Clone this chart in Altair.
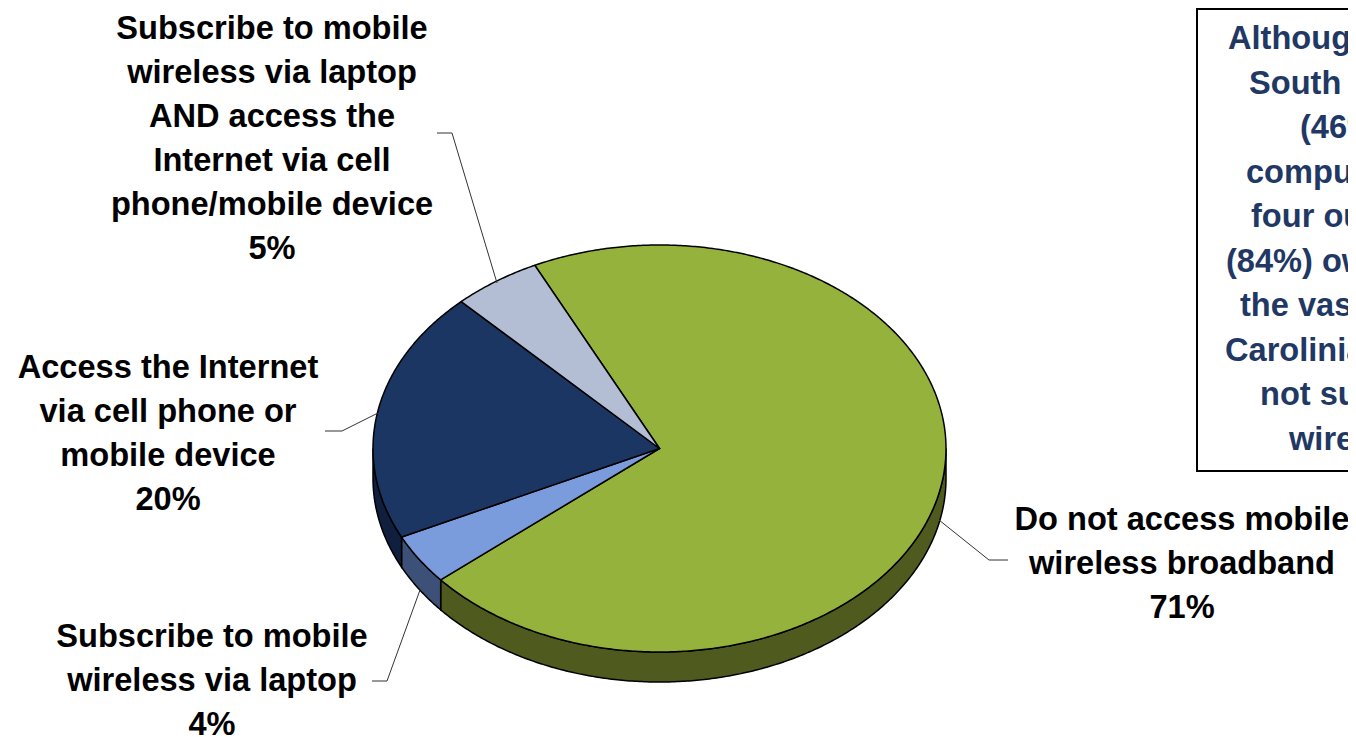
import numpy as np
import pandas as pd
import altair as alt

# ---- data ----
slices = ["Do not access mobile wireless broadband", "Subscribe to mobile wireless via laptop",
          "Access the Internet via cell phone or mobile device",
          "Subscribe to mobile wireless via laptop AND access the Internet via cell phone/mobile device"]
shares = [71, 4, 20, 5]
top_colors = ["#95B33C", "#7A9CDC", "#1C3664", "#B3BDD3"]
side_colors = ["#4E5A1E", "#3D5178", "#0F1F3D", "#5A5F6A"]

label_lines = [
    ["Do not access mobile", "wireless broadband", "71%"],
    ["Subscribe to mobile", "wireless via laptop", "4%"],
    ["Access the Internet", "via cell phone or", "mobile device", "20%"],
    ["Subscribe to mobile", "wireless via laptop", "AND access the", "Internet via cell", "phone/mobile device", "5%"],
]
box_lines = ["Although most", "South Carolinians", "(46%) own a laptop", "computer and nearly", "four out of five",
             "(84%) own a cell phone,", "the vast majority of South", "Carolinians (71%) do", "not subscribe to mobile",
             "wireless broadband."]

# ---- layout of the picture (page pixels) ----
RIGHT, BOTTOM = 1348, 737
CX, CY, RX, RY, DEPTH = 659.5, 448.5, 286.5, 203.5, 30
START = 334.2
label_cx = [1182, 212, 168, 272]
label_y0 = [520, 637, 368, 28.5]
line_gap = 44.1
box_left = [1228, 1249, 1300, 1246, 1251, 1226, 1240, 1225, 1260, 1289]
box_y0, box_gap = 39, 44.5
leaders = [
    [(1008, 560), (989, 560), (939, 520)],
    [(372, 681), (387, 681), (420, 590)],
    [(325, 431), (342, 431), (378, 413)],
    [(437, 133), (452, 133), (497, 283)],
]

xs = alt.Scale(domain=[8, RIGHT])
ys = alt.Scale(domain=[BOTTOM, 8])
X = lambda f: alt.X(f, type="quantitative", scale=xs, axis=None)
Y = lambda f: alt.Y(f, type="quantitative", scale=ys, axis=None)


def rim(a0, a1, dy=0.0):
    t = np.radians(np.arange(a0, a1, 0.5).tolist() + [a1])
    return list(zip(CX + RX * np.sin(t), CY + dy - RY * np.cos(t)))


def polygon(points, fill, stroke="#000000", sw=1.5):
    df = pd.DataFrame(points, columns=["x", "y"])
    df["i"] = range(len(df))
    return alt.Chart(df).mark_line(
        interpolate="linear-closed", fill=fill, stroke=stroke, strokeWidth=sw
    ).encode(x=X("x"), y=Y("y"), order=alt.Order("i:Q"))


edges, a = [], START
for s in shares:
    edges.append((a, a + s * 3.6))
    a += s * 3.6

layers = []
for (a0, a1), col in zip(edges, side_colors):
    for shift in (0, 360, -360):
        lo, hi = max(a0 + shift, 90), min(a1 + shift, 270)
        if hi > lo:
            layers.append(polygon(rim(lo, hi) + rim(lo, hi, DEPTH)[::-1], col))
for (a0, a1), col in zip(edges, top_colors):
    layers.append(polygon([(CX, CY)] + rim(a0, a1), col))

for k, pts in enumerate(leaders):
    df = pd.DataFrame(pts, columns=["x", "y"])
    df["i"] = range(len(df))
    layers.append(alt.Chart(df).mark_line(color="#333333", strokeWidth=1).encode(
        x=X("x"), y=Y("y"), order=alt.Order("i:Q")))

rows = []
for lines, cx, y0 in zip(label_lines, label_cx, label_y0):
    for j, t in enumerate(lines):
        rows.append({"x": cx, "y": y0 + j * line_gap, "t": t})
layers.append(alt.Chart(pd.DataFrame(rows)).mark_text(
    font="Liberation Sans", fontWeight="bold", fontSize=32.6, color="#000000",
    align="center", baseline="middle", clip=True
).encode(x=X("x"), y=Y("y"), text="t:N"))

box = pd.DataFrame({"x": [1197], "x2": [RIGHT + 40], "y": [9], "y2": [471]})
layers.append(alt.Chart(box).mark_rect(fill="#FFFFFF", stroke="#000000", strokeWidth=2, clip=True).encode(
    x=X("x"), x2="x2:Q", y=Y("y"), y2="y2:Q"))
box_df = pd.DataFrame({"x": box_left, "y": [box_y0 + i * box_gap for i in range(len(box_lines))], "t": box_lines})
layers.append(alt.Chart(box_df).mark_text(
    font="Liberation Sans", fontWeight="bold", fontSize=32.6, color="#1F3864",
    align="left", baseline="middle", clip=True
).encode(x=X("x"), y=Y("y"), text="t:N"))

chart = alt.layer(*layers).properties(
    width=RIGHT - 8, height=BOTTOM - 8, padding=0, background="#FFFFFF"
).configure_view(stroke=None)

chart.save("out.html", embed_options={"renderer": "svg", "actions": False})
